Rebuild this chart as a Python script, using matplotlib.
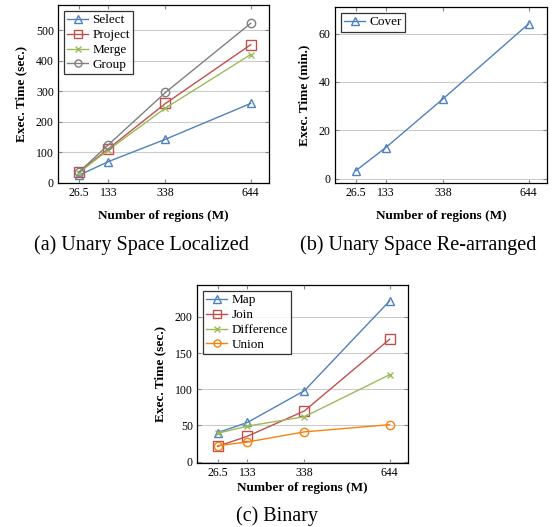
import matplotlib
matplotlib.use("Agg")
import matplotlib.pyplot as plt

# data
regions = [26.5, 133, 338, 644]
region_labels = ["26.5", "133", "338", "644"]

select_t = [25, 70, 143, 260]
project_t = [35, 112, 260, 452]
merge_t = [33, 108, 245, 420]
group_t = [35, 125, 296, 522]

cover_t = [3.3, 12.8, 33, 64]

map_t = [40, 54, 98, 222]
join_t = [21, 35, 70, 169]
diff_t = [39, 49, 62, 120]
union_t = [22, 27, 41, 51]

BLUE = "#4F81BD"
RED = "#C0504D"
GREEN = "#9BBB59"
GRAY = "#7F7F7F"
ORANGE = "#F7820F"

plt.rcParams["font.family"] = ["Liberation Serif", "DejaVu Serif"]

W, H = 553, 527
fig = plt.figure(figsize=(W / 100, H / 100), dpi=100)


def px_axes(left, top, right, bottom):
    return fig.add_axes([left / W, 1 - bottom / H, (right - left) / W, (bottom - top) / H])


def style(ax, ylabel, yticks, ylim):
    ax.set_xlim(-48, 710)
    ax.set_ylim(*ylim)
    ax.set_xticks(regions, region_labels)
    ax.set_yticks(yticks)
    ax.tick_params(direction="in", top=True, right=True, length=3,
                   color="#888888", labelsize=8.5, pad=3)
    ax.grid(True, axis="y", color="#cccccc", linewidth=0.8)
    ax.set_axisbelow(True)
    for sp in ax.spines.values():
        sp.set_linewidth(0.9)
    ax.set_xlabel("Number of regions (M)", fontweight="bold", fontsize=9.5, labelpad=8)
    ax.set_ylabel(ylabel, fontweight="bold", fontsize=9.5, labelpad=6)


def series(ax, y, color, marker, label, ms=6):
    ax.plot(regions, y, color=color, marker=marker, mfc="none", mec=color,
            ms=ms, lw=1.0, mew=1.0, label=label)


def legend(ax):
    leg = ax.legend(loc="upper left", fontsize=9.5, frameon=True, fancybox=False,
                    handlelength=1.6, handletextpad=0.3, borderpad=0.25,
                    labelspacing=0.2, borderaxespad=0.45, markerscale=0.85)
    leg.get_frame().set_edgecolor("black")
    leg.get_frame().set_linewidth(0.9)


# (a) unary space localized
ax1 = px_axes(58, 5, 269, 183)
series(ax1, select_t, BLUE, "^", "Select")
series(ax1, project_t, RED, "s", "Project", ms=6.5)
series(ax1, merge_t, GREEN, "x", "Merge", ms=4.5)
series(ax1, group_t, GRAY, "o", "Group")
style(ax1, "Exec. Time (sec.)", range(0, 501, 100), (0, 582))
legend(ax1)

# (b) unary space re-arranged
ax2 = px_axes(335, 7, 547, 183)
series(ax2, cover_t, BLUE, "^", "Cover")
style(ax2, "Exec. Time (min.)", range(0, 61, 20), (-1.8, 71))
legend(ax2)

# (c) binary
ax3 = px_axes(197, 285, 408, 463)
series(ax3, map_t, BLUE, "^", "Map")
series(ax3, join_t, RED, "s", "Join", ms=6.5)
series(ax3, diff_t, GREEN, "x", "Difference", ms=4.5)
series(ax3, union_t, ORANGE, "o", "Union")
style(ax3, "Exec. Time (sec.)", range(0, 201, 50), (-2, 244))
ax3.xaxis.labelpad = 2
legend(ax3)

cap = dict(fontsize=14.5, ha="center", va="center")
fig.text(141 / W, 1 - 245 / H, "(a) Unary Space Localized", **cap)
fig.text(418 / W, 1 - 245 / H, "(b) Unary Space Re-arranged", **cap)
fig.text(277 / W, 1 - 516 / H, "(c) Binary", **cap)

fig.savefig("out.png", dpi=100)
